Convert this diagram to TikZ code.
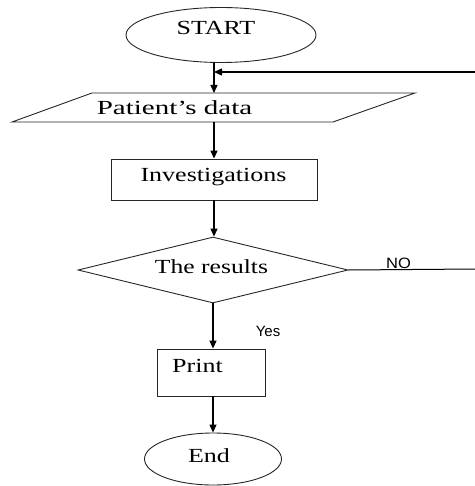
\documentclass[tikz,border=0pt]{standalone}
\usepackage{fontspec}
\usepackage{graphicx}
\setmainfont{Liberation Serif}
\newfontfamily\lsans{Liberation Sans}
\usetikzlibrary{shapes.geometric,arrows.meta}
\newcommand\sx[2]{\scalebox{#1}[1]{#2}}
\begin{document}
\begin{tikzpicture}[x=1pt,y=-1pt,
  shapeline/.style={draw=black!85, line width=0.9pt, inner sep=0pt},
  oval/.style={shapeline, ellipse},
  box/.style={shapeline, rectangle},
  decision/.style={shapeline, diamond},
  txt/.style={anchor=base, inner sep=0pt, font=\fontsize{20}{24}\selectfont},
  lbl/.style={anchor=base, inner sep=0pt, font=\lsans\fontsize{15}{17}\selectfont},
  arr/.style={line width=1.3pt, -{Triangle[width=7pt,length=8pt]}},
  conn/.style={line width=1pt}]
\useasboundingbox (0,0) rectangle (474,486);

\node[oval, minimum width=190pt, minimum height=55pt] (start) at (221,35) {};
\node[txt] (starttxt) at (216,35) {\sx{1.3}{START}};

\draw[shapeline] (12,122) -- (92,93) -- (415,93) -- (333,122) -- cycle;
\coordinate (dtop) at (214,93);
\coordinate (dbot) at (214,122);
\node[txt] (datatxt) at (174.5,115) {\sx{1.45}{Patient’s data}};

\node[box, minimum width=206pt, minimum height=41pt] (inv) at (214,179.5) {};
\node[txt] (invtxt) at (213.5,182) {\sx{1.3}{Investigations}};

\node[decision, minimum width=270pt, minimum height=66pt] (dec) at (213,270) {};
\node[txt] (dectxt) at (211.5,273) {\sx{1.28}{The results}};

\node[box, minimum width=108pt, minimum height=47pt] (print) at (211,372.5) {};
\node[txt] (printtxt) at (197.5,372) {\sx{1.3}{Print}};

\node[oval, minimum width=137pt, minimum height=52pt] (end) at (213,459) {};
\node[txt] (endtxt) at (209,462) {\sx{1.3}{End}};

\node[lbl] (no) at (398.5,268) {\sx{1.1}{NO}};
\node[lbl] (yes) at (268,336) {Yes};

\coordinate (j) at (214,72);
\coordinate (r1) at (476,269);
\coordinate (r2) at (476,72);

\draw[arr] ([xshift=-7pt]start.south) -- (dtop);
\draw[arr] (dbot) -- (inv.north);
\draw[arr] (inv.south) -- (inv.south |- dec.north);
\draw[arr] (dec.south) -- (dec.south |- print.north);
\draw[arr] (end.north |- print.south) -- (end.north);
\draw[conn] (dec.east) -- (r1) -- (r2);
\draw[arr] (r2) -- (j);
\end{tikzpicture}
\end{document}
